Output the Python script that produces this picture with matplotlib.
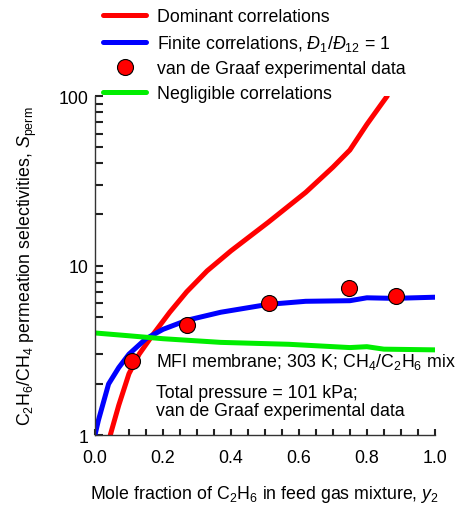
import numpy as np
import matplotlib
matplotlib.use('Agg')
import matplotlib.pyplot as plt
from matplotlib.ticker import MultipleLocator, LogLocator, NullFormatter, FixedFormatter, FixedLocator

plt.rcParams['font.family'] = 'Liberation Sans'
plt.rcParams['mathtext.fontset'] = 'custom'
plt.rcParams['mathtext.rm'] = 'Liberation Sans'
plt.rcParams['mathtext.it'] = 'Liberation Sans:italic'

# dominant correlations
x_dom = [0.045, 0.07, 0.10, 0.13, 0.17, 0.22, 0.27, 0.33, 0.40, 0.51, 0.62, 0.70, 0.75, 0.80, 0.84, 0.86]
s_dom = [1.0, 1.5, 2.3, 3.0, 3.9, 5.3, 7.0, 9.3, 12.2, 18.0, 27.0, 38.0, 48.0, 68.0, 88.0, 100.0]

# finite correlations
x_fin = [0.0, 0.01, 0.04, 0.07, 0.10, 0.15, 0.20, 0.27, 0.37, 0.51, 0.62, 0.75, 0.80, 0.88, 1.0]
s_fin = [1.0, 1.22, 2.0, 2.5, 3.0, 3.7, 4.2, 4.75, 5.3, 5.9, 6.15, 6.2, 6.45, 6.4, 6.5]

# negligible correlations
x_neg = [0.0, 0.1, 0.2, 0.37, 0.57, 0.75, 0.80, 0.85, 1.0]
s_neg = [4.0, 3.85, 3.7, 3.52, 3.43, 3.28, 3.32, 3.21, 3.18]

# van de Graaf experiments
x_exp = [0.11, 0.27, 0.513, 0.748, 0.886]
s_exp = [2.72, 4.43, 6.03, 7.38, 6.6]

fs = 12.8
fig = plt.figure(figsize=(4.58, 5.06), dpi=100)
ax = fig.add_axes([0.2074, 0.1383, 0.742, 0.670])

lw = 3.6
ax.plot(x_dom, s_dom, color='#ff0000', lw=lw, solid_capstyle='round', label='Dominant correlations')
ax.plot(x_fin, s_fin, color='#0000ff', lw=lw, solid_capstyle='round',
        label='Finite correlations, $Đ_1$/$Đ_{12}$ = 1')
ax.plot(x_exp, s_exp, 'o', ms=11.5, mfc='#ff0000', mec='black', mew=0.8,
        label='van de Graaf experimental data')
ax.plot(x_neg, s_neg, color='#00ee00', lw=lw, solid_capstyle='round', label='Negligible correlations')

ax.set_yscale('log')
ax.set_xlim(0, 1.0)
ax.set_ylim(1, 100)
ax.xaxis.set_major_locator(MultipleLocator(0.2))
ax.xaxis.set_minor_locator(MultipleLocator(0.05))
ax.xaxis.set_major_formatter(plt.FuncFormatter(lambda v, p: f'{v:.1f}'))
ax.yaxis.set_major_locator(FixedLocator([1, 10, 100]))
ax.yaxis.set_major_formatter(FixedFormatter(['1', '10', '100']))
ax.yaxis.set_minor_locator(LogLocator(base=10, subs=np.arange(2, 10)))
ax.yaxis.set_minor_formatter(NullFormatter())

# inward ticks on the left and bottom spines only
ax.tick_params(axis='y', which='both', direction='in', length=6, width=1.5,
               color='#222222', labelsize=fs, pad=5)
ax.tick_params(axis='x', which='both', direction='in', length=4.5, width=1.5,
               color='#222222', labelsize=fs, pad=10)
ax.spines['top'].set_visible(False)
ax.spines['right'].set_visible(False)
for sp in ('left', 'bottom'):
    ax.spines[sp].set_color('#333333')
    ax.spines[sp].set_linewidth(1.0)

ax.set_xlabel('Mole fraction of C$_2$H$_6$ in feed gas mixture, $y_2$', fontsize=fs, labelpad=12)
ax.set_ylabel('C$_2$H$_6$/CH$_4$ permeation selectivities, $S_\\mathrm{perm}$', fontsize=fs, labelpad=14)

ax.text(0.18, 2.72, 'MFI membrane; 303 K; CH$_4$/C$_2$H$_6$ mix', fontsize=fs, va='center')
ax.text(0.18, 1.58, 'Total pressure = 101 kPa;\nvan de Graaf experimental data',
        fontsize=fs, va='center', linespacing=1.05)

ax.legend(loc='upper left', bbox_to_anchor=(0.222, 0.985), bbox_transform=fig.transFigure,
          frameon=False, fontsize=fs, handlelength=2.4, labelspacing=0.42,
          handletextpad=0.6, borderaxespad=0.0, borderpad=0.1)

fig.savefig('out.png', dpi=100)
